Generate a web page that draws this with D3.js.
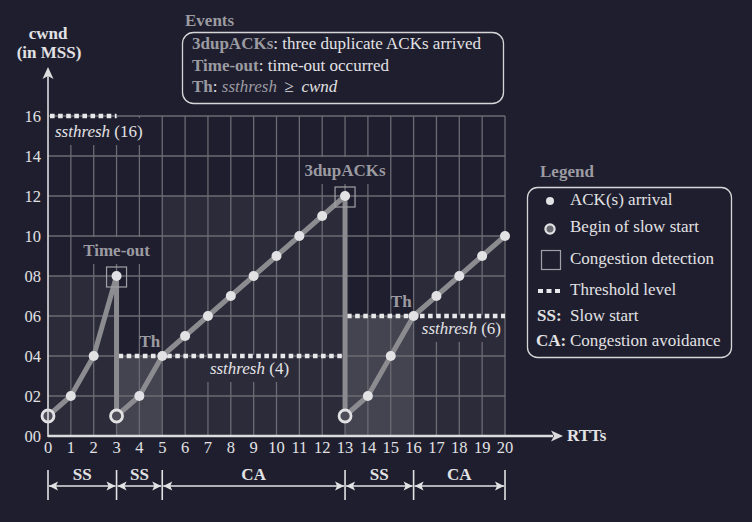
<!DOCTYPE html>
<html><head><meta charset="utf-8">
<script src="https://cdn.jsdelivr.net/npm/d3@7"></script>
<style>
html,body{margin:0;padding:0;background:#1f1e2e;}
svg{display:block;}
</style></head>
<body>
<script>
// ---------- data ----------
const rtt  = [0,1,2,3, 3,4,5,6,7,8,9,10,11,12,13, 13,14,15,16,17,18,19,20];
const cwnd = [1,2,4,8, 1,2,4,5,6,7,8,9,10,11,12, 1,2,4,6,7,8,9,10];
const ssBeginRtt = [0,3,13];
const ssBeginCwnd = [1,1,1];
const congestionRtt = [3,13];
const congestionCwnd = [8,12];
const congestionLabel = ["Time-out","3dupACKs"];
const thresholdStart = [0,3,13];
const thresholdEnd = [3,13,20];
const thresholdValue = [16,4,6];
const thRtt = [5,16];
const thCwnd = [4,6];
const phaseStart = [0,3,5,13,16];
const phaseEnd = [3,5,13,16,20];
const phaseName = ["SS","SS","CA","SS","CA"];
const phaseTop = [8,4,12,6,10];
const phaseLight = [false,true,false,true,false];
const yTickValues = [0,2,4,6,8,10,12,14,16];
const yTickLabels = ["00","02","04","06","08","10","12","14","16"];
const xTickValues = d3.range(0,21);

// ---------- setup ----------
const W=752,H=522, FS=17;
const BG="#1f1e2e", MID="#2c2b3a", LIGHT="#444350", GRID="#6b6b73";
const TXT="#e2e2e4", GREY="#9b9ba1", LINE="#8b8b90";
const svg=d3.select("body").append("svg").attr("width",W).attr("height",H)
  .attr("font-family","'Liberation Serif','Times New Roman',serif");
svg.append("rect").attr("width",W).attr("height",H).attr("fill",BG);
const x=d3.scaleLinear().domain([0,20]).range([48,505]);
const y=d3.scaleLinear().domain([0,16]).range([436,116]);

// shading
svg.append("g").selectAll("rect").data(phaseStart).join("rect")
  .attr("x",(d)=>x(d)).attr("width",(d,i)=>x(phaseEnd[i])-x(d))
  .attr("y",(d,i)=>y(phaseTop[i])).attr("height",(d,i)=>y(0)-y(phaseTop[i]))
  .attr("fill",(d,i)=>phaseLight[i]?LIGHT:MID);

// grid
const grid=svg.append("g").attr("stroke",GRID).attr("stroke-width",1.3);
grid.selectAll("line.v").data(xTickValues.slice(1)).join("line")
  .attr("x1",d=>x(d)).attr("x2",d=>x(d)).attr("y1",y(0)).attr("y2",y(16));
grid.selectAll("line.h").data(yTickValues.slice(1)).join("line")
  .attr("x1",x(0)).attr("x2",x(20)).attr("y1",d=>y(d)).attr("y2",d=>y(d));

// helper: text with background
function bgText(g,xx,yy,parts,anchor,bg,weight){
  const t=g.append("text").attr("x",xx).attr("y",yy).attr("text-anchor",anchor)
    .attr("font-size",FS).attr("font-weight",weight||"normal");
  parts.forEach(p=>{t.append("tspan").text(p.t).attr("fill",p.c||TXT)
    .attr("font-style",p.i?"italic":"normal");});
  if(bg){const b=t.node().getBBox();
    g.insert("rect","text").attr("x",b.x-3).attr("y",b.y-4).attr("width",b.width+6)
      .attr("height",b.height+8).attr("fill",bg);}
  return t;
}

// threshold labels
bgText(svg.append("g"),x(0)+7,y(16)+21,[{t:"ssthresh",i:true},{t:" (16)"}],"start",BG);
bgText(svg.append("g"),x(10.55),y(4)+18,[{t:"ssthresh",i:true},{t:" (4)"}],"end",MID);
bgText(svg.append("g"),x(20)-4,y(6)+18,[{t:"ssthresh",i:true},{t:" (6)"}],"end",MID);
// congestion labels
congestionRtt.forEach((r,i)=>{
  bgText(svg.append("g"),x(r),y(congestionCwnd[i])-20,[{t:congestionLabel[i],c:GREY}],"middle",BG,"bold");
});

// threshold lines
svg.append("g").selectAll("line").data(thresholdValue).join("line")
  .attr("x1",(d,i)=>x(thresholdStart[i])+2).attr("x2",(d,i)=>x(thresholdEnd[i]))
  .attr("y1",d=>y(d)).attr("y2",d=>y(d))
  .attr("stroke","#e8e8ea").attr("stroke-width",4.6).attr("stroke-dasharray","4.6,3.5");

// series line
const pts=rtt.map((r,i)=>[r,cwnd[i]]);
svg.append("path").datum(pts)
  .attr("d",d3.line().x(d=>x(d[0])).y(d=>y(d[1])))
  .attr("fill","none").attr("stroke",LINE).attr("stroke-width",5).attr("stroke-linejoin","round");

// congestion boxes
svg.append("g").selectAll("rect").data(congestionRtt).join("rect")
  .attr("x",d=>x(d)-10).attr("y",(d,i)=>y(congestionCwnd[i])-9)
  .attr("width",20).attr("height",20).attr("fill","none")
  .attr("stroke","#a0a0a6").attr("stroke-width",1.2);

// dots
svg.append("g").selectAll("circle").data(pts).join("circle")
  .attr("cx",d=>x(d[0])).attr("cy",d=>y(d[1])).attr("r",5).attr("fill",TXT);
svg.append("g").selectAll("circle").data(ssBeginRtt).join("circle")
  .attr("cx",d=>x(d)).attr("cy",(d,i)=>y(ssBeginCwnd[i])).attr("r",6)
  .attr("fill","#4e4d59").attr("stroke",TXT).attr("stroke-width",2.8);

// Th labels
svg.append("g").selectAll("text").data(thRtt).join("text")
  .attr("x",d=>x(d)-2).attr("y",(d,i)=>y(thCwnd[i])-9)
  .attr("text-anchor","end").attr("font-size",FS).attr("font-weight","bold")
  .attr("fill",GREY).text("Th");

// axes
const ax=svg.append("g");
ax.append("line").attr("x1",x(0)).attr("x2",553).attr("y1",y(0)).attr("y2",y(0))
  .attr("stroke","#dcdcde").attr("stroke-width",2.6);
ax.append("path").attr("d",`M563,${y(0)} L551,${y(0)-5.5} L554,${y(0)} L551,${y(0)+5.5} Z`).attr("fill","#dcdcde");
ax.append("line").attr("x1",x(0)).attr("x2",x(0)).attr("y1",y(0)+1).attr("y2",74)
  .attr("stroke","#dcdcde").attr("stroke-width",1.6);
ax.append("path").attr("d",`M${x(0)},67 L${x(0)-5.5},79 L${x(0)},76 L${x(0)+5.5},79 Z`).attr("fill","#dcdcde");

ax.selectAll("text.yt").data(yTickValues).join("text").attr("class","yt")
  .attr("x",x(0)-7).attr("y",d=>y(d)+5.5).attr("text-anchor","end")
  .attr("font-size",16.5).attr("fill",TXT).text((d,i)=>yTickLabels[i]);
ax.selectAll("text.xt").data(xTickValues).join("text").attr("class","xt")
  .attr("x",d=>x(d)).attr("y",453).attr("text-anchor","middle")
  .attr("font-size",16.5).attr("fill",TXT).text(d=>d);

ax.append("text").attr("x",48).attr("y",39).attr("text-anchor","middle")
  .attr("font-size",FS).attr("font-weight","bold").attr("fill",TXT).text("cwnd");
ax.append("text").attr("x",49).attr("y",58).attr("text-anchor","middle")
  .attr("font-size",FS).attr("font-weight","bold").attr("fill",TXT).text("(in MSS)");
ax.append("text").attr("x",567).attr("y",441).attr("text-anchor","start")
  .attr("font-size",FS).attr("font-weight","bold").attr("fill",TXT).text("RTTs");

// phase brackets
const br=svg.append("g");
const bY=486;
const bounds=[phaseStart[0]].concat(phaseEnd);
br.selectAll("line.tick").data(bounds).join("line")
  .attr("x1",d=>x(d)).attr("x2",d=>x(d)).attr("y1",470).attr("y2",500)
  .attr("stroke",TXT).attr("stroke-width",1.6);
phaseStart.forEach((s,i)=>{
  const a=x(s)+1, b=x(phaseEnd[i])-1;
  br.append("line").attr("x1",a).attr("x2",b).attr("y1",bY).attr("y2",bY)
    .attr("stroke",TXT).attr("stroke-width",1.6);
  br.append("path").attr("d",`M${a},${bY} L${a+9},${bY-4.5} L${a+7},${bY} L${a+9},${bY+4.5} Z`).attr("fill",TXT);
  br.append("path").attr("d",`M${b},${bY} L${b-9},${bY-4.5} L${b-7},${bY} L${b-9},${bY+4.5} Z`).attr("fill",TXT);
  br.append("text").attr("x",(x(s)+x(phaseEnd[i]))/2).attr("y",480)
    .attr("text-anchor","middle").attr("font-size",FS).attr("font-weight","bold")
    .attr("fill",TXT).text(phaseName[i]);
});

// Events box
const ev=svg.append("g");
ev.append("text").attr("x",185).attr("y",26).attr("font-size",FS).attr("font-weight","bold")
  .attr("fill",GREY).text("Events");
ev.append("rect").attr("x",182.5).attr("y",32.5).attr("width",321).attr("height",71)
  .attr("rx",11).attr("fill","none").attr("stroke","#d6d6d8").attr("stroke-width",1.3);
function line(g,xx,yy,parts){
  const t=g.append("text").attr("x",xx).attr("y",yy).attr("font-size",FS);
  parts.forEach(p=>t.append("tspan").text(p.t).attr("fill",p.c||TXT)
    .attr("font-weight",p.b?"bold":"normal").attr("font-style",p.i?"italic":"normal")
    .attr("dx",p.dx||0));
}
line(ev,192,49,[{t:"3dupACKs",b:true,c:GREY},{t:": three duplicate ACKs arrived"}]);
line(ev,192,71,[{t:"Time-out",b:true,c:GREY},{t:": time-out occurred"}]);
line(ev,192,92,[{t:"Th",b:true,c:GREY},{t:": "},{t:"ssthresh",i:true,c:GREY},{t:" \u2265",dx:3},{t:"cwnd",i:true,dx:8}]);

// Legend
const lg=svg.append("g");
lg.append("text").attr("x",540).attr("y",177).attr("font-size",FS).attr("font-weight","bold")
  .attr("fill",GREY).text("Legend");
lg.append("rect").attr("x",527.5).attr("y",187.5).attr("width",204).attr("height",170)
  .attr("rx",10).attr("fill","none").attr("stroke","#d6d6d8").attr("stroke-width",1.3);
lg.append("circle").attr("cx",550).attr("cy",201).attr("r",4).attr("fill",TXT);
lg.append("circle").attr("cx",550).attr("cy",229).attr("r",4.6).attr("fill","#6a6a72")
  .attr("stroke",TXT).attr("stroke-width",2.2);
lg.append("rect").attr("x",541.5).attr("y",250.5).attr("width",19).attr("height",19)
  .attr("fill","none").attr("stroke","#a0a0a6").attr("stroke-width",1.2);
lg.append("line").attr("x1",538).attr("x2",561).attr("y1",291).attr("y2",291)
  .attr("stroke","#e8e8ea").attr("stroke-width",4).attr("stroke-dasharray","5,3.5");
const legTexts=[["ACK(s) arrival",205],["Begin of slow start",232],["Congestion detection",264],["Threshold level",295],["Slow start",321],["Congestion avoidance",346]];
legTexts.forEach(([t,yy])=>lg.append("text").attr("x",570).attr("y",yy).attr("font-size",FS)
  .attr("fill",TXT).text(t));
lg.append("text").attr("x",537).attr("y",321).attr("font-size",FS).attr("font-weight","bold").attr("fill",TXT).text("SS:");
lg.append("text").attr("x",536).attr("y",346).attr("font-size",FS).attr("font-weight","bold").attr("fill",TXT).text("CA:");
</script>
</body></html>
